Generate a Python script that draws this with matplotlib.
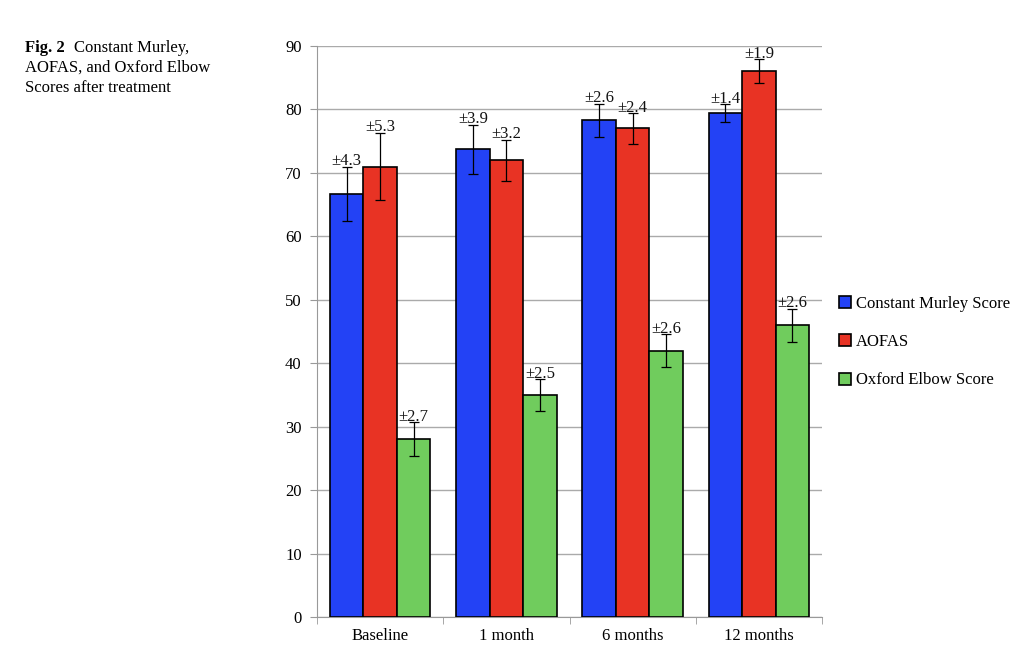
import matplotlib
matplotlib.use("Agg")
import matplotlib.pyplot as plt
import numpy as np

categories = ["Baseline", "1 month", "6 months", "12 months"]
series = ["Constant Murley Score", "AOFAS", "Oxford Elbow Score"]
means = [
    [66.7, 73.7, 78.3, 79.4],
    [71.0, 72.0, 77.0, 86.0],
    [28.0, 35.0, 42.0, 46.0],
]
errors = [
    [4.3, 3.9, 2.6, 1.4],
    [5.3, 3.2, 2.4, 1.9],
    [2.7, 2.5, 2.6, 2.6],
]
colors = ["#2342F5", "#E83324", "#70CC5D"]

chart_font = "Liberation Serif"
cap_font = "Liberation Serif"

fig = plt.figure(figsize=(10.24, 6.68), dpi=100)
ax = fig.add_axes([317 / 1024, 1 - 617 / 668, 505 / 1024, 571 / 668])

x = np.arange(len(categories))
width = 0.265
for i, (name, vals, errs, col) in enumerate(zip(series, means, errors, colors)):
    pos = x + (i - 1) * width
    ax.bar(pos, vals, width, color=col, edgecolor="black", linewidth=1.2,
           label=name, zorder=3)
    ax.errorbar(pos, vals, yerr=errs, fmt="none", ecolor="black",
                elinewidth=0.9, capsize=3.5, capthick=0.9, zorder=4)
    for p, v, e in zip(pos, vals, errs):
        ax.text(p, v + e - 0.4, f"\u00b1{e}", ha="center", va="bottom",
                fontsize=12, family=chart_font, color="#111111", zorder=5)

ax.set_xlim(-0.5, len(categories) - 0.5)
ax.set_ylim(0, 90)
ax.set_yticks(range(0, 91, 10))
ax.set_xticks(x)
ax.set_xticklabels(categories, family=chart_font, fontsize=12)
ax.set_xticks(np.arange(-0.5, len(categories), 1), minor=True)
ax.tick_params(axis="x", which="major", length=0, pad=8)
ax.tick_params(axis="x", which="minor", length=5, color="#999999")
ax.tick_params(axis="y", length=5, color="#999999", labelsize=12, pad=6)
for lab in ax.get_yticklabels():
    lab.set_family(chart_font)

for where in ["top", "right"]:
    ax.spines[where].set_visible(False)
for where in ["left", "bottom"]:
    ax.spines[where].set_color("#999999")
ax.grid(True, axis="y", color="#AAAAAA", linewidth=1, zorder=0)
ax.set_axisbelow(True)

handles, labels = ax.get_legend_handles_labels()
fig.legend(handles, labels, loc="center left", bbox_to_anchor=(824 / 1024, 1 - 342 / 668),
           frameon=False, prop={"family": chart_font, "size": 12},
           handlelength=0.7, handleheight=0.7, handletextpad=0.3, labelspacing=1.35)

cap_lines = ["Constant Murley,", "AOFAS, and Oxford Elbow", "Scores after treatment"]
fig.text(25 / 1024, 1 - 40 / 668, "Fig. 2", fontsize=12, family=cap_font,
         weight="bold", va="top")
fig.text(74 / 1024, 1 - 40 / 668, cap_lines[0], fontsize=12, family=cap_font, va="top")
fig.text(25 / 1024, 1 - 60 / 668, cap_lines[1], fontsize=12, family=cap_font, va="top")
fig.text(25 / 1024, 1 - 80 / 668, cap_lines[2], fontsize=12, family=cap_font, va="top")

fig.savefig("out.png", dpi=100)
